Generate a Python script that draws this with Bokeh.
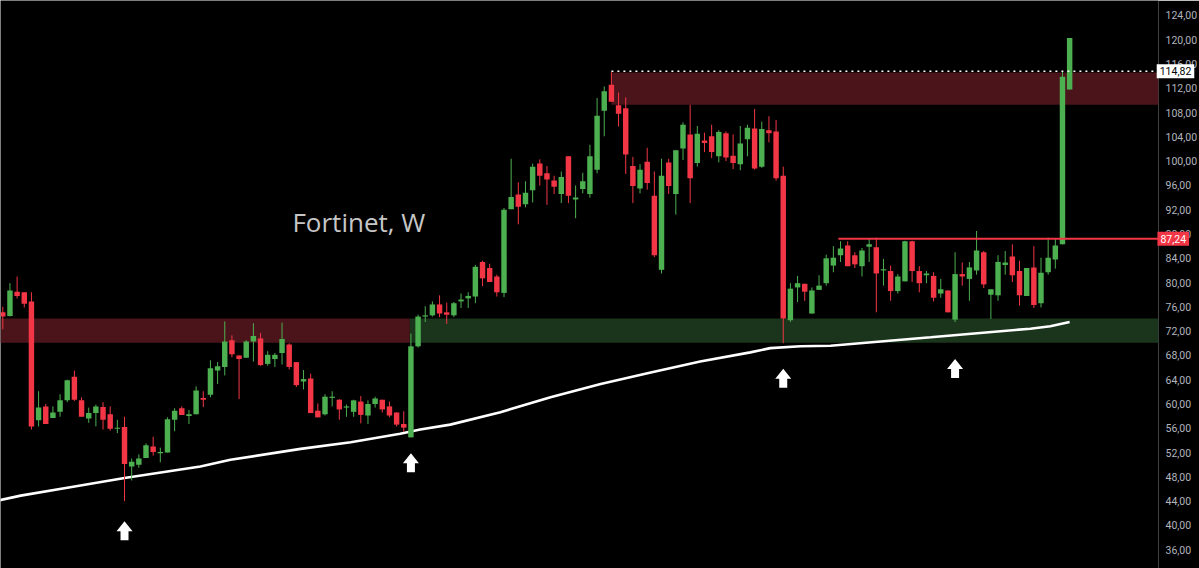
from bokeh.plotting import figure
from bokeh.models import Range1d, FixedTicker, CustomJSTickFormatter, Label, BoxAnnotation
from bokeh.embed import file_html
from bokeh.resources import INLINE
from bokeh.core.properties import value

# ---------------- data (weekly candles, Fortinet) ----------------
opens = [75.1, 74.5, 78.5, 78.4, 76.9, 57.3, 59.6, 57.7, 58.7, 60.6,
         64.5, 60.6, 57.6, 58.5, 59.5, 58.3, 55.9, 56.2, 49.7, 50.0,
         51.1, 53.0, 51.9, 52.0, 57.4, 59.3, 58.0, 58.3, 61.0, 61.5,
         65.5, 66.1, 70.5, 68.0, 67.6, 70.3, 70.8, 66.6, 67.4, 68.4,
         69.8, 66.9, 63.7, 64.2, 58.9, 58.3, 61.0, 60.7, 59.4, 58.7,
         60.4, 58.1, 60.0, 60.7, 59.6, 58.6, 56.7, 54.5, 69.5, 74.4,
         74.6, 76.4, 75.1, 74.6, 76.9, 77.4, 77.7, 83.4, 82.4, 81.0,
         78.3, 92.1, 94.5, 92.9, 95.2, 99.6, 98.0, 96.8, 94.6, 100.8,
         93.7, 95.4, 94.6, 98.6, 108.3, 112.6, 109.2, 108.7, 99.2, 95.5,
         99.9, 94.3, 82.1, 99.8, 94.6, 102.1, 104.4, 99.7, 103.4, 104.1,
         100.8, 104.6, 100.9, 99.5, 103.6, 105.4, 99.1, 105.1, 104.9, 97.6,
         73.8, 79.2, 79.8, 74.9, 78.8, 79.9, 82.8, 84.5, 86.1, 84.5,
         82.7, 85.9, 85.8, 82.0, 81.9, 78.6, 80.2, 86.8, 81.9, 81.2,
         81.1, 78.2, 78.7, 73.9, 81.4, 80.6, 82.0, 85.0, 78.0, 77.9,
         82.9, 84.3, 81.9, 77.8, 82.5, 76.6, 81.7, 83.8, 86.3, 111.8]
highs = [76.0, 79.9, 81.0, 78.4, 78.4, 62.1, 60.0, 59.6, 61.6, 64.0,
         65.5, 61.1, 59.4, 59.9, 60.3, 59.6, 57.4, 57.9, 51.0, 51.7,
         53.5, 54.6, 52.8, 57.8, 59.3, 59.6, 59.0, 62.9, 62.1, 67.2,
         66.9, 73.6, 71.3, 68.0, 70.5, 73.3, 71.7, 68.7, 68.4, 73.4,
         70.0, 66.9, 65.6, 65.0, 60.1, 61.6, 62.1, 60.8, 59.9, 60.7,
         61.3, 60.6, 61.2, 60.7, 60.4, 58.6, 58.8, 71.6, 74.7, 76.1,
         76.9, 77.9, 76.7, 76.8, 78.2, 78.4, 82.9, 83.6, 83.1, 81.3,
         92.3, 100.4, 96.5, 96.7, 99.6, 100.3, 99.2, 97.6, 98.3, 100.8,
         96.0, 98.1, 102.7, 110.4, 112.3, 114.7, 111.3, 110.5, 100.7, 99.5,
         102.2, 98.3, 100.4, 100.4, 101.8, 106.4, 109.3, 105.8, 104.7, 106.0,
         105.1, 104.9, 104.4, 105.8, 106.0, 108.6, 106.5, 107.4, 106.8, 99.1,
         79.9, 81.1, 79.8, 79.2, 81.2, 84.6, 86.0, 86.8, 86.8, 85.0,
         85.7, 87.2, 87.4, 83.9, 82.8, 81.4, 86.9, 86.9, 82.7, 81.9,
         81.7, 80.6, 78.7, 85.0, 83.3, 83.4, 88.5, 85.2, 78.9, 84.5,
         85.2, 86.3, 83.6, 82.4, 86.0, 84.1, 87.4, 87.2, 114.7, 120.3]
lows = [72.3, 74.4, 77.4, 75.9, 55.8, 56.3, 56.7, 57.7, 57.9, 60.3,
        60.5, 57.9, 56.9, 56.3, 55.8, 55.6, 55.2, 44.0, 47.4, 49.5,
        51.1, 51.5, 50.4, 52.0, 55.5, 58.2, 56.7, 58.3, 59.5, 61.1,
        63.3, 64.7, 67.7, 60.8, 67.6, 67.0, 66.3, 66.3, 66.1, 66.5,
        65.7, 62.8, 62.4, 58.5, 57.8, 58.1, 59.6, 57.4, 57.9, 57.9,
        56.8, 56.7, 59.4, 58.6, 57.8, 56.3, 55.4, 54.5, 69.3, 73.5,
        74.4, 74.3, 73.2, 74.3, 75.8, 75.8, 76.6, 79.4, 80.1, 77.7,
        77.6, 92.1, 89.6, 92.4, 93.2, 96.0, 92.8, 94.6, 93.1, 93.1,
        90.6, 94.7, 94.0, 98.0, 104.1, 109.8, 105.7, 97.9, 93.1, 94.7,
        95.3, 84.2, 81.5, 94.6, 91.2, 100.2, 93.1, 99.1, 101.5, 100.5,
        99.8, 100.0, 98.7, 98.5, 100.8, 98.6, 98.9, 103.1, 96.8, 70.0,
        73.5, 76.8, 77.0, 74.9, 78.8, 79.5, 81.7, 83.4, 82.7, 82.4,
        81.0, 83.4, 75.1, 79.5, 77.0, 78.2, 80.2, 80.1, 78.4, 79.9,
        76.9, 77.5, 75.1, 73.5, 79.5, 77.0, 81.3, 79.1, 74.0, 77.0,
        81.3, 80.1, 76.2, 77.8, 75.8, 75.9, 81.3, 82.3, 86.3, 111.8]
closes = [74.4, 78.7, 77.8, 76.5, 56.3, 59.4, 56.7, 58.6, 60.6, 63.9,
          60.7, 57.9, 58.5, 59.6, 57.4, 55.9, 56.1, 50.1, 50.5, 51.0,
          53.2, 52.1, 52.1, 57.5, 58.9, 58.2, 58.3, 62.2, 60.7, 65.9,
          66.2, 70.3, 68.2, 67.4, 70.3, 71.2, 66.4, 68.1, 68.1, 70.7,
          66.1, 63.1, 64.1, 58.5, 57.8, 61.2, 61.2, 59.1, 59.6, 60.6,
          58.2, 60.0, 60.9, 59.1, 58.1, 56.6, 56.1, 69.5, 74.4, 74.6,
          76.4, 74.9, 74.7, 76.6, 77.2, 77.8, 82.6, 80.7, 80.1, 78.4,
          92.0, 94.1, 92.5, 94.8, 99.1, 97.6, 97.0, 95.8, 97.4, 94.3,
          94.0, 96.7, 100.8, 107.5, 111.5, 109.8, 107.8, 101.1, 95.9, 98.6,
          96.4, 84.5, 97.6, 95.9, 101.8, 106.0, 97.2, 104.5, 103.0, 101.5,
          104.8, 100.6, 99.7, 102.9, 105.5, 98.8, 105.3, 104.6, 97.2, 74.1,
          79.0, 79.9, 78.5, 78.7, 79.5, 84.0, 84.1, 85.6, 82.7, 83.0,
          85.3, 86.3, 81.5, 82.2, 78.6, 81.0, 86.8, 81.9, 79.9, 81.5,
          77.5, 78.9, 75.1, 81.4, 81.0, 82.5, 85.3, 79.7, 78.9, 83.4,
          83.3, 81.2, 77.9, 82.4, 76.3, 81.6, 84.1, 86.1, 113.9, 120.3]

# 200-period moving average, read at a few bars
ma_bar = [-1, 2.5, 9, 17, 27.6, 31.8, 41.6, 48.6, 55.5, 58.3, 62.5, 69.5,
          76.5, 83.5, 90.5, 97.4, 104.4, 107.2, 111.4, 115.6, 122.6, 129.6,
          136.5, 143.5, 146.3, 149.0]
ma_val = [44.0, 44.9, 46.2, 47.8, 49.7, 50.8, 52.6, 53.7, 55.1, 55.8, 56.6, 58.65,
          61.1, 63.3, 65.2, 67.0, 68.5, 69.2, 69.5, 69.6, 70.3, 71.0,
          71.7, 72.4, 72.8, 73.5]

# price axis
price_ticks = [36, 40, 44, 48, 52, 56, 60, 64, 68, 72, 76, 80, 84, 88,
               92, 96, 100, 104, 108, 112, 116, 120, 124]

# zones and levels
support_zone_low, support_zone_high = 70.1, 74.1
old_resistance_end_bar = 56.85
top_zone_start_bar = 85
top_zone_low, top_zone_high = 109.3, 114.6
last_price = 114.82
resistance_level = 87.24
resistance_start_bar = 116.7

# arrows: bar index and tip price
arrow_bar = [17, 57, 109, 133]
arrow_tip = [40.7, 51.9, 65.8, 67.4]

# ---------------- figure ----------------
FW, FH = 1158, 568
X0, X1 = -0.321, 161.41
Y0, Y1 = 32.896, 126.471
PXX = FW / (X1 - X0)
PXY = FH / (Y1 - Y0)

UP = "#4caf50"
DN = "#f23645"

p = figure(frame_width=FW, frame_height=FH,
           x_range=Range1d(X0, X1), y_range=Range1d(Y0, Y1),
           output_backend="svg", toolbar_location=None,
           x_axis_location=None, y_axis_location="right",
           background_fill_color="#000000", border_fill_color="#000000",
           outline_line_color=None, min_border=0)
p.grid.visible = False

ax = p.yaxis[0]
ax.ticker = FixedTicker(ticks=price_ticks)
ax.formatter = CustomJSTickFormatter(code="return tick.toFixed(2).replace('.', ',');")
ax.major_label_text_color = "#b2b5be"
ax.major_label_text_font = "Roboto"
ax.major_label_text_font_size = "10.5px"
ax.axis_line_color = None
ax.major_tick_line_color = None
ax.minor_tick_line_color = None
ax.major_tick_out = 0
ax.major_tick_in = 0
ax.minor_tick_out = 0
ax.minor_tick_in = 0
ax.major_label_standoff = 7

# zones
p.add_layout(BoxAnnotation(right=old_resistance_end_bar, bottom=support_zone_low,
                           top=support_zone_high, fill_color="#4b141b", fill_alpha=1,
                           line_color=None, level="underlay"))
p.add_layout(BoxAnnotation(left=old_resistance_end_bar, bottom=support_zone_low,
                           top=support_zone_high, fill_color="#1b341c", fill_alpha=1,
                           line_color=None, level="underlay"))
p.add_layout(BoxAnnotation(left=top_zone_start_bar, bottom=top_zone_low,
                           top=top_zone_high, fill_color="#4b141b", fill_alpha=1,
                           line_color=None, level="underlay"))

# moving average
p.line(ma_bar, ma_val, line_color="white", line_width=2.6)

# candles
bars = list(range(len(opens)))
cols = [UP if c >= o else DN for o, c in zip(opens, closes)]
tops = [max(o, c) for o, c in zip(opens, closes)]
bots = [min(o, c) for o, c in zip(opens, closes)]
p.segment(x0=bars, y0=lows, x1=bars, y1=highs, line_color=cols, line_width=1)
p.vbar(x=bars, width=0.76, top=tops, bottom=bots, fill_color=cols, line_color=None)

# levels
p.segment(x0=[resistance_start_bar], y0=[resistance_level], x1=[X1], y1=[resistance_level],
          line_color=DN, line_width=2)
p.segment(x0=[top_zone_start_bar], y0=[last_price], x1=[X1 - 0.3], y1=[last_price],
          line_color="white", line_width=1.5, line_dash="2 4")

# arrows (shape in pixels, anchored at data points)
shape = [(0, 0), (8, 10), (4, 10), (4, 19), (-4, 19), (-4, 10), (-8, 10)]
axs = [[b + dx / PXX for dx, dy in shape] for b in arrow_bar]
ays = [[t - dy / PXY for dx, dy in shape] for t in arrow_tip]
p.patches(axs, ays, fill_color="white", line_color=None)

# title text
p.text(x=[40.45], y=[89.95], text=["Fortinet, W"], text_font=value("Open Sans"),
       text_font_size="26px", text_color="#c6c6c6", text_baseline="alphabetic")

# price tags on the scale (placed in the right panel so they are not clipped)
p.add_layout(Label(x=X1 - 0.25, y=last_price, text="114,82", text_font="Roboto",
                   text_font_size="10.5px", text_color="#000000",
                   background_fill_color="#ffffff", text_baseline="middle",
                   text_align="left", padding=3), "right")
p.add_layout(Label(x=X1 - 0.15, y=resistance_level, text="87,24", text_font="Roboto",
                   text_font_size="10.5px", text_color="#ffffff",
                   background_fill_color=DN, text_baseline="middle",
                   text_align="left", padding=3), "right")

open("out.html", "w").write(file_html(p, INLINE))
